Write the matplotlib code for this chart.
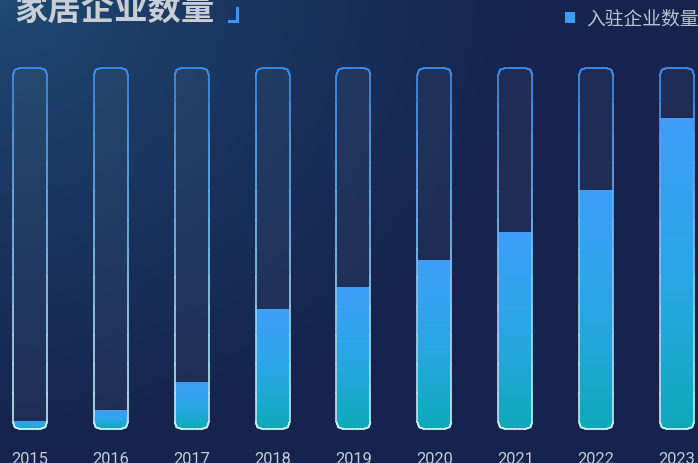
import numpy as np
import matplotlib.pyplot as plt
from matplotlib.patches import FancyBboxPatch, Rectangle
from matplotlib.collections import LineCollection
from matplotlib.colors import LinearSegmentedColormap
from matplotlib.lines import Line2D

# data (axis max = 1000)
years = ['2015', '2016', '2017', '2018', '2019', '2020', '2021', '2022', '2023']
counts = [22, 50, 130, 330, 393, 468, 543, 662, 861]
cap = 1000
title = '家居企业数量'
series_name = '入驻企业数量'

W, H, DPI = 6.98, 4.63, 100
fig = plt.figure(figsize=(W, H), dpi=DPI)

# background: dark navy with a lighter glow in the top-left corner
bg = fig.add_axes([0, 0, 1, 1])
bg.axis('off')
yy, xx = np.mgrid[0:463, 0:698]
d = np.clip(np.sqrt((xx / 540.0) ** 2 + (yy / 460.0) ** 2), 0, 1)
c0 = np.array([0x1f, 0x4b, 0x74]) / 255
c1 = np.array([0x15, 0x23, 0x4e]) / 255
img = c0 + (c1 - c0) * (d[..., None] ** 0.8)
bg.imshow(img, extent=[0, 1, 0, 1], aspect='auto', origin='upper')
bg.set_xlim(0, 1)
bg.set_ylim(0, 1)

ax = fig.add_axes([0, 0, 1, 1])
ax.axis('off')
ax.patch.set_alpha(0)
xlim = (-0.371, 8.26)
ylim = (-94.2, 1188.4)
px_x = W * DPI / (xlim[1] - xlim[0])
px_y = H * DPI / (ylim[1] - ylim[0])
aspect = px_x / px_y

bw = 34 / px_x
rad = 7 / px_x
fill_cmap = LinearSegmentedColormap.from_list('fill', ['#0eaab9', '#2aa6e6', '#3d9ef8'])
edge_cmap = LinearSegmentedColormap.from_list('edge', ['#c9f1f4', '#7fc2f0', '#3b8cec'])
grad = np.linspace(0, 1, 256).reshape(-1, 1)

for i, v in enumerate(counts):
    box = FancyBboxPatch((i - bw / 2, 0), bw, cap,
                         boxstyle='round,pad=0,rounding_size=%f' % rad,
                         mutation_aspect=aspect, facecolor=(1, 1, 1, 0.045),
                         edgecolor='none', zorder=2)
    ax.add_patch(box)
    im = ax.imshow(grad, cmap=fill_cmap, origin='lower', aspect='auto',
                   extent=[i - bw / 2, i + bw / 2, 0, v], zorder=3)
    im.set_clip_path(box)
    # gradient outline
    poly = box.get_path().to_polygons()[0]
    pts = []
    for a, b in zip(poly[:-1], poly[1:]):
        for t in np.linspace(0, 1, 12, endpoint=False):
            pts.append(a + (b - a) * t)
    pts.append(poly[-1])
    pts = np.array(pts)
    segs = np.stack([pts[:-1], pts[1:]], axis=1)
    ymid = segs[:, :, 1].mean(axis=1) / cap
    lc = LineCollection(segs, colors=edge_cmap(ymid), linewidths=1.2,
                        capstyle='round', zorder=4)
    ax.add_collection(lc)
    ax.text(i, -1.0 / 463, years[i], transform=ax.get_xaxis_transform(),
            ha='center', va='baseline', fontsize=11.8, family='Roboto',
            color='#c6cbd6')

ax.set_xlim(*xlim)
ax.set_ylim(*ylim)

# title and its corner mark
fig.text(15 / 698, 1 - 20 / 463, title, fontsize=24, fontweight='bold',
         family=['Noto Sans CJK SC', 'DejaVu Sans'], color='#c9cdd5',
         ha='left', va='baseline')
fig.add_artist(Line2D([228.5 / 698, 236.5 / 698, 236.5 / 698],
                      [1 - 20.5 / 463, 1 - 20.5 / 463, 1 - 7.5 / 463],
                      color='#3f93f2', lw=2.2, solid_joinstyle='miter'))

# legend
fig.add_artist(Rectangle((565 / 698, 1 - 22.5 / 463), 9.5 / 698, 10 / 463,
                         transform=fig.transFigure, facecolor='#3d9ef8',
                         edgecolor='none'))
fig.text(586 / 698, 1 - 24 / 463, series_name, fontsize=13.5,
         family=['Noto Sans CJK SC', 'DejaVu Sans'], color='#bcc3cf',
         ha='left', va='baseline')

plt.savefig('out.png', dpi=DPI)
